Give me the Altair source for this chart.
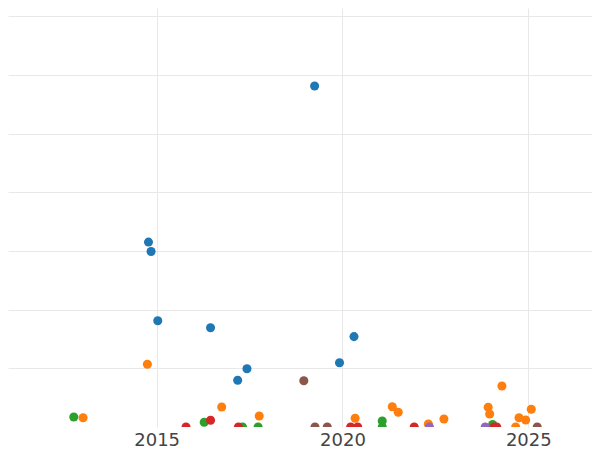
import altair as alt
import pandas as pd

# Series data (x = decimal year, y = value)
blue_x = [2019.25, 2014.78, 2014.85, 2015.03, 2016.45, 2020.31, 2019.92, 2017.43, 2017.18]
blue_y = [58.1, 31.5, 29.9, 18.1, 16.9, 15.4, 10.95, 9.93, 7.96]

orange_x = [2014.75, 2013.02, 2016.75, 2017.76, 2020.34, 2021.34, 2021.50, 2022.31, 2022.73,
            2023.92, 2023.96, 2024.29, 2024.66, 2024.75, 2024.93, 2025.08]
orange_y = [10.68, 1.58, 3.41, 1.87, 1.48, 3.46, 2.50, 0.51, 1.36,
            3.36, 2.21, 6.98, 0.0, 1.58, 1.19, 3.02]

green_x = [2012.77, 2016.28, 2017.31, 2017.73, 2021.07, 2021.07, 2024.04]
green_y = [1.70, 0.80, 0.0, 0.0, 1.02, 0.0, 0.43]

red_x = [2015.79, 2016.45, 2017.20, 2020.22, 2020.41, 2021.93, 2024.08, 2024.15]
red_y = [0.0, 1.14, 0.0, 0.0, 0.0, 0.0, 0.0, 0.0]

purple_x = [2022.34, 2023.84]
purple_y = [0.0, 0.0]

brown_x = [2018.96, 2019.26, 2019.59, 2025.24]
brown_y = [7.89, 0.0, 0.0, 0.0]

series = [
    ("A", blue_x, blue_y),
    ("B", orange_x, orange_y),
    ("C", green_x, green_y),
    ("D", red_x, red_y),
    ("E", purple_x, purple_y),
    ("F", brown_x, brown_y),
]
names = [s[0] for s in series]
colors = ["#1f77b4", "#ff7f0e", "#2ca02c", "#d62728", "#9467bd", "#8c564b"]

x_ticks = [2015, 2020, 2025]
y_grid = [10, 20, 30, 40, 50, 60, 70]

rows = []
order = 0
for name, xs, ys in series:
    for x, y in zip(xs, ys):
        rows.append({"year": x, "value": y, "series": name, "order": order})
        order += 1
df = pd.DataFrame(rows)

chart = alt.Chart(df).mark_circle(size=82, opacity=1, clip=True).encode(
    x=alt.X("year:Q",
            scale=alt.Scale(domain=[2011.0, 2026.714], nice=False, zero=False),
            axis=alt.Axis(values=x_ticks, format="d", title=None, domain=False,
                          ticks=False, labelFontSize=18, labelColor="#444444",
                          labelPadding=4, labelFont="DejaVu Sans",
                          gridColor="#e8e8e8", gridWidth=1)),
    y=alt.Y("value:Q",
            scale=alt.Scale(domain=[0, 71.38], nice=False),
            axis=alt.Axis(values=y_grid, title=None, labels=False, ticks=False,
                          domain=False, gridColor="#e8e8e8", gridWidth=1)),
    color=alt.Color("series:N", scale=alt.Scale(domain=names, range=colors), legend=None),
    order=alt.Order("order:Q"),
).properties(
    width=584, height=419, padding=0
).configure_view(stroke=None)

chart.save("out.html", embed_options={"renderer": "svg", "actions": False})
